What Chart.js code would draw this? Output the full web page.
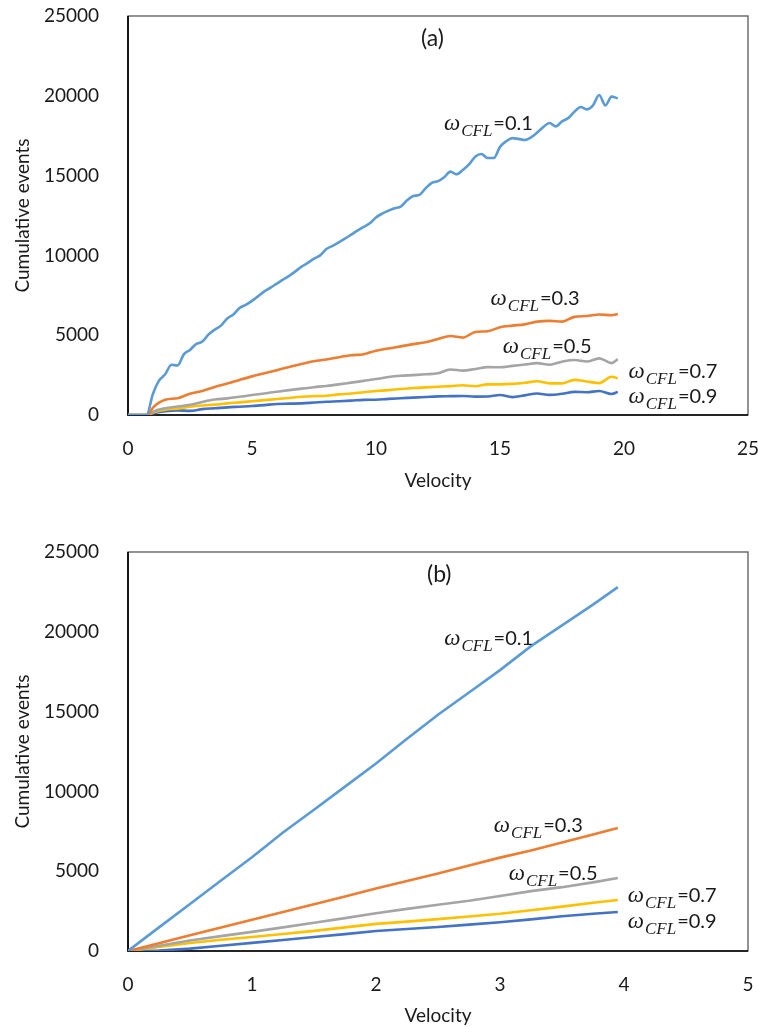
<!DOCTYPE html>
<html>
<head>
<meta charset="utf-8">
<script src="https://cdn.jsdelivr.net/npm/chart.js@4.4.1/dist/chart.umd.min.js"></script>
<style>
body { margin: 0; background: #fff; }
canvas { position: absolute; left: 0; }
#cvA { top: 0; }
#cvB { top: 500px; }
</style>
</head>
<body>
<canvas id="cvA" width="758" height="500"></canvas>
<canvas id="cvB" width="758" height="527"></canvas>
<script>
// ---- data ----
// (a) the 0.1 curve is sampled finer, it wiggles a lot
const velA01 = [0,0.25,0.5,0.75,1,1.25,1.5,1.75,2,2.25,2.5,2.75,3,3.25,3.5,3.75,4,4.25,4.5,4.75,
  5,5.25,5.5,5.75,6,6.25,6.5,6.75,7,7.25,7.5,7.75,8,8.25,8.5,8.75,9,9.25,9.5,9.75,
  10,10.25,10.5,10.75,11,11.25,11.5,11.75,12,12.25,12.5,12.75,13,13.25,13.5,13.75,14,14.25,14.5,14.75,
  15,15.25,15.5,15.75,16,16.25,16.5,16.75,17,17.25,17.5,17.75,18,18.25,18.5,18.75,19,19.25,19.5,19.75];
const cflA01 = [0,0,0,0,1300,2150,2550,3150,3100,3800,4080,4450,4600,5050,5350,5600,6050,6300,6700,6900,
  7150,7450,7750,7980,8230,8480,8720,9000,9300,9530,9800,10000,10400,10600,10820,11050,11300,11550,11780,12010,
  12380,12620,12800,12960,13050,13450,13720,13790,14200,14550,14650,14900,15250,15080,15350,15700,16180,16350,16100,16100,
  16800,17150,17350,17300,17230,17400,17700,18050,18300,18080,18400,18600,19000,19300,19150,19400,20050,19400,19950,19840];

const velA = [0,0.5,0.8,1,1.5,2,2.5,3,3.5,4,4.5,5,5.5,6,6.5,7,7.5,8,8.5,9,9.5,
  10,10.5,11,11.5,12,12.5,13,13.5,14,14.5,15,15.5,16,16.5,17,17.5,18,18.5,19,19.5,19.75];
const cflA03 = [0,0,0,450,950,1050,1330,1510,1760,1970,2200,2420,2610,2810,3010,3200,3370,3480,3620,3740,3810,
  4030,4170,4300,4440,4560,4760,4950,4850,5200,5250,5500,5600,5680,5850,5900,5850,6150,6200,6300,6250,6330];
const cflA05 = [0,0,0,200,420,530,640,820,970,1040,1140,1250,1350,1460,1560,1650,1740,1820,1920,2030,2140,
  2250,2380,2460,2500,2550,2610,2850,2780,2880,3000,2990,3080,3160,3250,3150,3340,3450,3350,3550,3250,3500];
const cflA07 = [0,0,0,150,330,400,520,600,650,730,790,860,930,1000,1070,1140,1180,1210,1290,1350,1430,
  1500,1560,1630,1690,1730,1770,1810,1860,1800,1920,1920,1950,2020,2110,1980,1980,2200,2100,2000,2400,2300];
const cflA09 = [0,0,0,100,230,290,260,370,420,480,520,560,620,690,710,730,780,830,860,900,950,
  960,1010,1050,1090,1130,1170,1180,1190,1150,1160,1250,1120,1230,1350,1260,1330,1450,1430,1500,1320,1450];

// (b)
const velB = [0,0.25,0.5,0.75,1,1.25,1.5,1.75,2,2.25,2.5,2.75,3,3.25,3.5,3.75,3.95];
const cflB01 = [0,1480,2950,4420,5870,7420,8850,10300,11750,13300,14800,16200,17600,19100,20400,21700,22800];
const cflB03 = [0,490,980,1470,1960,2440,2930,3420,3920,4380,4850,5350,5850,6300,6800,7300,7700];
const cflB05 = [0,330,660,930,1200,1480,1770,2060,2370,2640,2900,3150,3450,3750,4000,4300,4570];
const cflB07 = [0,250,500,700,880,1070,1260,1480,1700,1840,2000,2160,2330,2550,2780,3020,3200];
const cflB09 = [0,30,150,330,510,690,880,1060,1250,1380,1500,1650,1800,1980,2180,2330,2440];

const omegas = ['0.1', '0.3', '0.5', '0.7', '0.9'];
const colors = ['#5B9BD5', '#ED7D31', '#A5A5A5', '#FFC000', '#4472C4'];

// where the curve names sit (data units)
const noteXA = [12.74, 14.62, 15.11, 20.18, 20.18];
const noteYA = [17860, 6890, 3870, 2300, 733];
const noteXB = [2.55, 2.95, 3.07, 4.03, 4.03];
const noteYB = [19170, 7475, 4450, 3090, 1420];

const ink = '#1a1a1a';

function pts(xs, ys) {
  return xs.map(function(x, i) { return {x: x, y: ys[i]}; });
}

// box around the plot
const frame = {
  id: 'frame',
  beforeDatasetsDraw(chart) {
    const a = chart.chartArea, c = chart.ctx;
    c.save();
    c.strokeStyle = '#595959';
    c.lineWidth = 1.3;
    c.strokeRect(a.left, a.top, a.right - a.left, a.bottom - a.top);
    c.strokeStyle = '#000';
    c.lineWidth = 1.7;
    c.beginPath();
    c.moveTo(a.left, a.top);
    c.lineTo(a.left, a.bottom);
    c.lineTo(a.right, a.bottom);
    c.stroke();
    c.restore();
  }
};

// omega_CFL labels + panel tag
const notes = {
  id: 'notes',
  afterDatasetsDraw(chart, args, o) {
    const c = chart.ctx, sx = chart.scales.x, sy = chart.scales.y;
    c.save();
    c.fillStyle = ink;
    c.textBaseline = 'alphabetic';
    c.textAlign = 'left';
    omegas.forEach(function(w, i) {
      let x = sx.getPixelForValue(o.nx[i]);
      const y = sy.getPixelForValue(o.ny[i]);
      c.font = 'italic 23px "Liberation Serif"';
      c.fillText('\u03C9', x, y);
      x += c.measureText('\u03C9').width + 1;
      c.font = 'italic 17px "Liberation Serif"';
      c.fillText('CFL', x, y + 6);
      x += c.measureText('CFL').width + 1;
      c.font = '20px Lato';
      c.fillText('=' + w, x, y);
    });
    c.font = '23px Lato';
    c.textAlign = 'center';
    c.textBaseline = 'middle';
    c.fillText(o.tag, sx.getPixelForValue(o.tagX), sy.getPixelForValue(23560));
    c.restore();
  }
};

function makeChart(id, sets, xMax, xStep, padTop, xH, titleBottom, nx, ny, tag, tagX, smooth) {
  const ctx = document.getElementById(id).getContext('2d');
  return new Chart(ctx, {
    type: 'line',
    data: {
      datasets: sets.map(function(s, i) {
        return {
          label: omegas[i],
          data: s,
          borderColor: colors[i],
          backgroundColor: colors[i],
          borderWidth: 2.6,
          pointRadius: 0,
          fill: false,
          cubicInterpolationMode: smooth ? 'monotone' : 'default',
          tension: 0
        };
      })
    },
    options: {
      responsive: false,
      animation: false,
      devicePixelRatio: 1,
      layout: {padding: {left: 0, right: 10, top: padTop, bottom: 0}},
      plugins: {
        legend: {display: false},
        tooltip: {enabled: false},
        notes: {nx: nx, ny: ny, tag: tag, tagX: tagX}
      },
      scales: {
        x: {
          type: 'linear', min: 0, max: xMax,
          grid: {display: false, drawTicks: false},
          border: {display: false},
          ticks: {stepSize: xStep, padding: 22, maxRotation: 0, color: ink, font: {family: 'Lato', size: 19},
                  callback: function(v) { return String(v); }},
          title: {display: true, text: 'Velocity', color: ink, font: {family: 'Lato', size: 19},
                  padding: {top: 0, bottom: titleBottom}},
          afterFit(s) { s.height = xH; s.paddingLeft = 0; s.paddingRight = 0; }
        },
        y: {
          min: 0, max: 25000,
          grid: {display: false, drawTicks: false},
          border: {display: false},
          ticks: {stepSize: 5000, padding: 29, color: ink, font: {family: 'Lato', size: 19},
                  callback: function(v) { return String(v); }},
          title: {display: true, text: 'Cumulative events', color: ink, font: {family: 'Lato', size: 19},
                  padding: {top: 11, bottom: 0}},
          afterFit(s) { s.width = 128; s.paddingTop = 0; s.paddingBottom = 0; }
        }
      }
    },
    plugins: [frame, notes]
  });
}

makeChart('cvA',
  [pts(velA01, cflA01), pts(velA, cflA03), pts(velA, cflA05), pts(velA, cflA07), pts(velA, cflA09)],
  25, 5, 16, 85, 8, noteXA, noteYA, '(a)', 12.28, true);

makeChart('cvB',
  [pts(velB, cflB01), pts(velB, cflB03), pts(velB, cflB05), pts(velB, cflB07), pts(velB, cflB09)],
  5, 1, 52, 76, 0, noteXB, noteYB, '(b)', 2.51, false);
</script>
</body>
</html>
